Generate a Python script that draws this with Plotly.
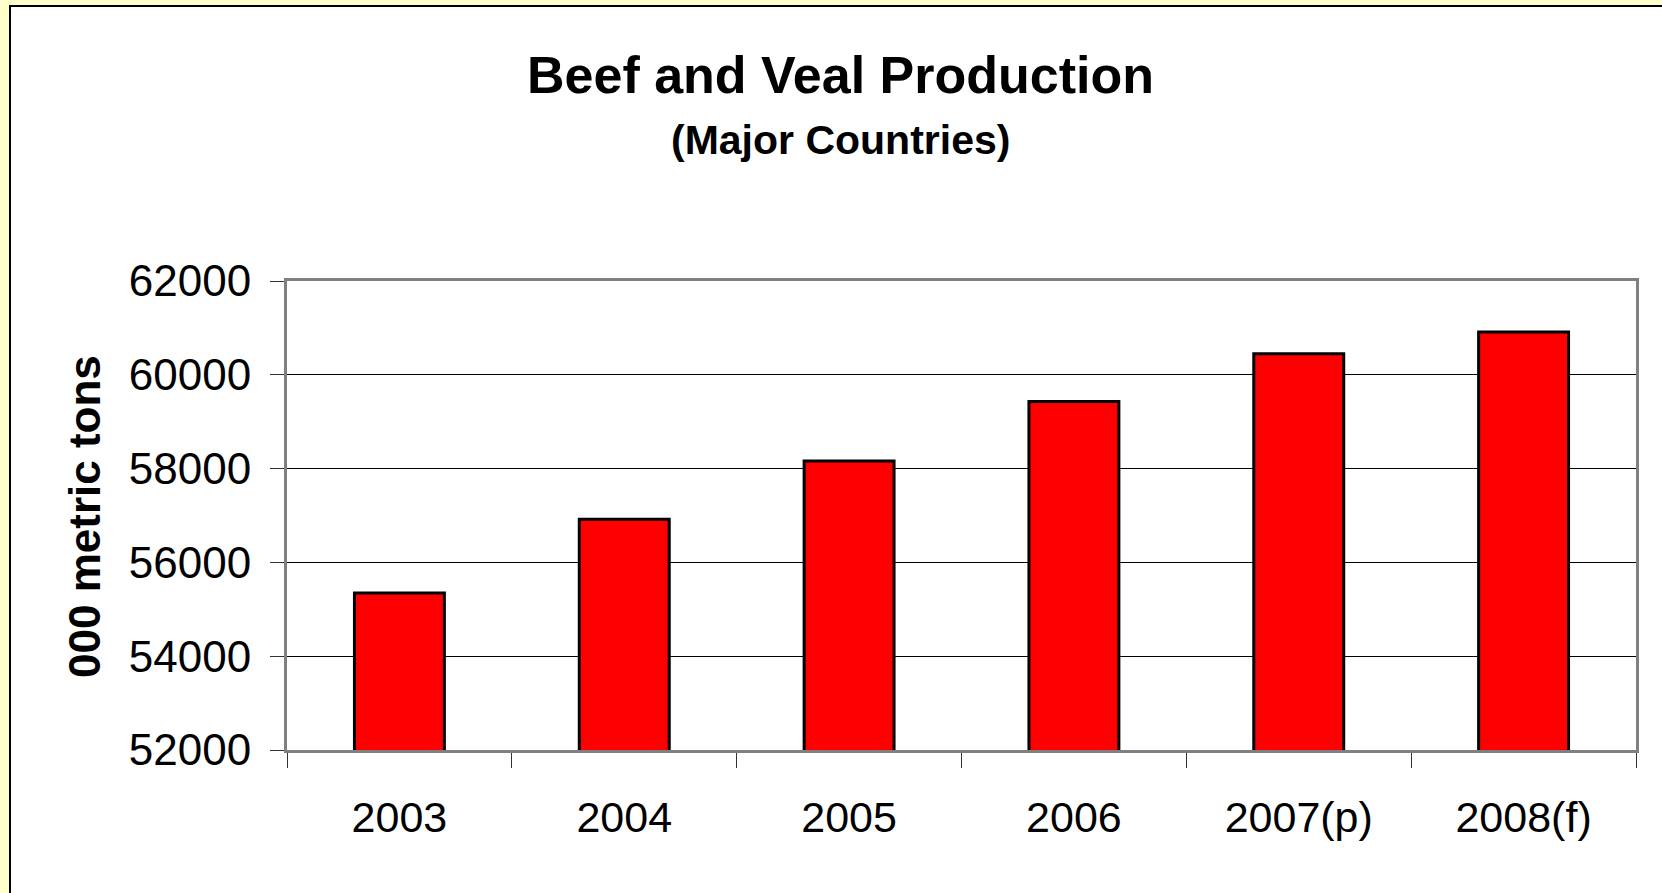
import plotly.graph_objects as go

categories = ["2003", "2004", "2005", "2006", "2007(p)", "2008(f)"]
production = [55350, 56920, 58160, 59430, 60450, 60910]
y_ticks = [52000, 54000, 56000, 58000, 60000, 62000]

W, H = 1662, 893
ML, MR, MT, MB = 287, 26, 281, 143
PW = W - ML - MR
PH = H - MT - MB

def px_x(px):
    return (px - ML) / PW

def px_y(py):
    return (H - MB - py) / PH

FONT = "Liberation Sans, Arial, Helvetica, sans-serif"

fig = go.Figure()
fig.add_trace(go.Bar(
    x=categories, y=production,
    marker=dict(color="#FF0000", line=dict(color="#000000", width=3)),
    width=0.40,
))

fig.update_layout(
    width=W, height=H,
    margin=dict(l=ML, r=MR, t=MT, b=MB, pad=0),
    paper_bgcolor="#FFFFCC",
    plot_bgcolor="#FFFFFF",
    showlegend=False,
    font=dict(family=FONT, color="#000000", size=43),
    shapes=[dict(
        type="rect", xref="paper", yref="paper",
        x0=px_x(10), x1=px_x(1690), y0=px_y(920), y1=px_y(6),
        fillcolor="#FFFFFF", line=dict(color="#000000", width=2),
        layer="below",
    )],
    annotations=[
        dict(text="<b>Beef and Veal Production</b>", xref="paper", yref="paper",
             x=px_x(840), y=px_y(75.5), xanchor="center", yanchor="middle",
             showarrow=False, font=dict(family=FONT, size=52, color="#000000")),
        dict(text="<b>(Major Countries)</b>", xref="paper", yref="paper",
             x=px_x(840), y=px_y(139.5), xanchor="center", yanchor="middle",
             showarrow=False, font=dict(family=FONT, size=41, color="#000000")),
        dict(text="<b>000 metric tons</b>", xref="paper", yref="paper",
             x=px_x(84), y=px_y(517), xanchor="center", yanchor="middle",
             textangle=-90, showarrow=False,
             font=dict(family=FONT, size=44, color="#000000")),
    ],
)

fig.update_xaxes(
    type="category",
    showline=True, linecolor="#808080", linewidth=3, mirror=True,
    ticks="outside", ticklen=15, tickwidth=1, tickcolor="#333333",
    tickson="boundaries",
    showgrid=False,
    tickfont=dict(family=FONT, size=43, color="#000000"),
    ticklabelstandoff=27,
)
fig.update_yaxes(
    range=[52000, 62000],
    tickvals=y_ticks, ticktext=[str(v) for v in y_ticks],
    showline=True, linecolor="#808080", linewidth=3, mirror=True,
    ticks="outside", ticklen=14, tickwidth=1, tickcolor="#333333",
    showgrid=True, gridcolor="#000000", gridwidth=1,
    zeroline=False,
    tickfont=dict(family=FONT, size=44, color="#000000"),
    ticklabelstandoff=10,
)

fig.write_html("out.html")
